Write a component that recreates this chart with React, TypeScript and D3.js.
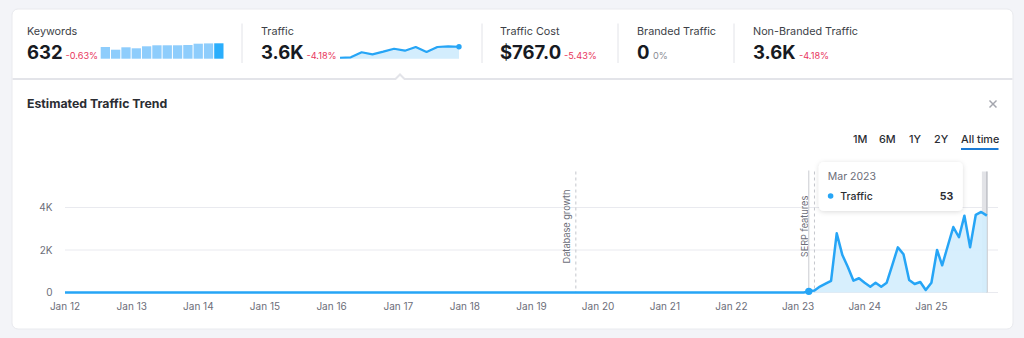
import React from 'react';
import * as d3 from 'd3';

// ---------- data ----------
const kpiLabels = ['Keywords', 'Traffic', 'Traffic Cost', 'Branded Traffic', 'Non-Branded Traffic'];
const kpiValues = ['632', '3.6K', '$767.0', '0', '3.6K'];
const kpiChanges = ['-0.63%', '-4.18%', '-5.43%', '0%', '-4.18%'];
const kpiChangeNeutral = [false, false, false, true, false];

const keywordBars = [480, 369, 468, 427, 509, 550, 550, 550, 562, 616, 628, 632];
const trafficSpark = [2.1, 2.16, 2.82, 2.55, 2.9, 3.29, 3.03, 3.52, 2.86, 3.52, 3.61, 3.55];

const startYear = 2012;
// monthly estimated traffic, Jan 2012 .. Nov 2025
const monthlyTraffic = [
  0, 0, 0, 0, 0, 0, 0, 0, 0, 0, 0, 0, // 2012
  0, 0, 0, 0, 0, 0, 0, 0, 0, 0, 0, 0, // 2013
  0, 0, 0, 0, 0, 0, 0, 0, 0, 0, 0, 0, // 2014
  0, 0, 0, 0, 0, 0, 0, 0, 0, 0, 0, 0, // 2015
  0, 0, 0, 0, 0, 0, 0, 0, 0, 0, 0, 0, // 2016
  0, 0, 0, 0, 0, 0, 0, 0, 0, 0, 0, 0, // 2017
  0, 0, 0, 0, 0, 0, 0, 0, 0, 0, 0, 0, // 2018
  0, 0, 0, 0, 0, 0, 0, 0, 0, 0, 0, 0, // 2019
  0, 0, 0, 0, 0, 0, 0, 0, 0, 0, 0, 0, // 2020
  0, 0, 0, 0, 0, 0, 0, 0, 0, 0, 0, 0, // 2021
  0, 0, 0, 0, 0, 0, 0, 0, 0, 0, 0, 0, // 2022
  0, 0, 53, 90, 280, 420, 550, 2785, 1760, 1200, 555, 670, // 2023
  460, 275, 460, 275, 460, 1300, 2125, 1800, 590, 400, 495, 120, // 2024
  460, 2000, 1280, 2200, 3080, 2600, 3615, 2125, 3650, 3790, 3620, // 2025
];

const eventLabels = ['Database growth', 'SERP features'];
const eventDates = ['2019-09', '2023-04'];
const rangeButtons = ['1M', '6M', '1Y', '2Y', 'All time'];
const yTicks = [0, 2000, 4000];
const hoverIndex = 134; // Mar 2023

// ---------- layout ----------
const W = 1024;
const H = 338;
const FONT = 'Inter, "Noto Sans", sans-serif';
const BLUE = '#26a5f6';
const FILL = '#d3edfd';
const RED = '#e8365d';

const kpiX = [27, 261, 500, 637, 753];
const kpiChangeX = [65.5, 306.5, 564, 653, 799];
const sepX = [242, 482, 618, 734];

export default function App() {
  const dates = monthlyTraffic.map((_, i) => new Date(startYear, i, 1));
  const series = monthlyTraffic.map((v, i) => ({ d: dates[i], v }));

  const x = d3.scaleTime().domain([new Date(2012, 0, 1), new Date(2026, 0, 1)]).range([65, 998]);
  const y = d3.scaleLinear().domain([0, 4000]).range([292.5, 207.5]);
  const plotTop = 171.5;

  const line = d3.line<{ d: Date; v: number }>().x((p) => x(p.d)).y((p) => y(p.v));
  const area = d3
    .area<{ d: Date; v: number }>()
    .x((p) => x(p.d))
    .y0(y(0))
    .y1((p) => y(p.v));

  const xTicks = d3.range(2012, 2026).map((yr) => new Date(yr, 0, 1));
  const fmtTick = d3.timeFormat('%b %y');
  const fmtMonth = d3.timeFormat('%b %Y');
  const fmtY = (v: number) => (v === 0 ? '0' : `${v / 1000}K`);

  // keyword bars
  const kb = d3.scaleBand<number>().domain(d3.range(keywordBars.length)).range([100.7, 223.5]).paddingInner(0.1);
  const ky = d3.scaleLinear().domain([0, 632]).range([58.7, 43.3]);

  // traffic sparkline
  const sx = d3.scaleLinear().domain([0, trafficSpark.length - 1]).range([340, 459]);
  const sy = d3.scaleLinear().domain([2.0, 3.65]).range([58.5, 46]);
  const sLine = d3.line<number>().x((_, i) => sx(i)).y((v) => sy(v));
  const sArea = d3.area<number>().x((_, i) => sx(i)).y0(58.7).y1((v) => sy(v));

  const hoverP = series[hoverIndex];
  const lastP = series[series.length - 1];
  const parseM = d3.timeParse('%Y-%m');

  const btnX = [853, 879, 909, 934, 961];

  return (
    <svg width={W} height={H} style={{ position: 'absolute', left: 0, top: 0 }} fontFamily={FONT}>
      <defs>
        <filter id="tipShadow" x="-20%" y="-30%" width="140%" height="170%">
          <feDropShadow dx="0" dy="1" stdDeviation="2.5" floodColor="#000" floodOpacity="0.14" />
        </filter>
      </defs>
      <rect x={0} y={0} width={W} height={H} fill="#f3f4f8" />
      <rect x={12} y={9} width={1001} height={320} rx={6} fill="#fff" stroke="#e9eaee" />

      {/* KPI row */}
      {kpiLabels.map((l, i) => (
        <g key={l}>
          <text x={kpiX[i]} y={35} fontSize={10.8} fill="#3d3f47">{l}</text>
          <text x={kpiX[i]} y={58.7} fontSize={18.5} fontWeight={700} fill="#171a22">{kpiValues[i]}</text>
          <text x={kpiChangeX[i]} y={58.5} fontSize={9.2} fill={kpiChangeNeutral[i] ? '#8a8c94' : RED}>{kpiChanges[i]}</text>
        </g>
      ))}
      {sepX.map((sxp) => (
        <line key={sxp} x1={sxp} x2={sxp} y1={23.5} y2={63} stroke="#e2e3e8" />
      ))}
      {keywordBars.map((v, i) => (
        <rect key={i} x={kb(i)} y={ky(v)} width={kb.bandwidth()} height={58.7 - ky(v)}
          fill={i === keywordBars.length - 1 ? '#2aaefc' : '#8ecdfc'} />
      ))}
      <path d={sArea(trafficSpark) || ''} fill={FILL} />
      <path d={sLine(trafficSpark) || ''} fill="none" stroke={BLUE} strokeWidth={2.2} strokeLinejoin="round" />
      <circle cx={sx(trafficSpark.length - 1)} cy={sy(trafficSpark[trafficSpark.length - 1])} r={2.7} fill={BLUE} />

      {/* divider with caret */}
      <path d="M12.5,79 H395.5 L400,74.5 L404.5,79 H1012.5" fill="none" stroke="#e3e4e9" strokeWidth={2} />

      {/* chart header */}
      <text x={27} y={108.3} fontSize={12.3} fontWeight={700} fill="#2b2d33">Estimated Traffic Trend</text>
      <g stroke="#a4a6ae" strokeWidth={1.5}>
        <line x1={989.5} y1={100.5} x2={996.5} y2={107.5} />
        <line x1={996.5} y1={100.5} x2={989.5} y2={107.5} />
      </g>
      {rangeButtons.map((b, i) => (
        <text key={b} x={btnX[i]} y={142.5} fontSize={10.8} fontWeight={500} fill="#2b2d33">{b}</text>
      ))}
      <rect x={961} y={148} width={37.5} height={2} fill="#1b7ad4" />

      {/* grid */}
      {yTicks.map((t) => (
        <g key={t}>
          <line x1={65} x2={998} y1={y(t)} y2={y(t)} stroke="#e9eaef" />
          <text x={52.5} y={y(t)} dy="0.35em" textAnchor="end" fontSize={10} fill="#6c6e79">{fmtY(t)}</text>
        </g>
      ))}
      {xTicks.map((t) => (
        <text key={+t} x={x(t)} y={309.5} textAnchor="middle" fontSize={10} fill="#6c6e79">{fmtTick(t)}</text>
      ))}

      {/* event markers */}
      {eventLabels.map((l, i) => {
        const ex = x(parseM(eventDates[i]) as Date);
        return (
          <g key={l}>
            <line x1={ex} x2={ex} y1={plotTop} y2={y(0)} stroke="#c4c6cc" strokeDasharray="3,3" />
            <text transform={`translate(${ex - 6},226.5) rotate(-90)`} textAnchor="middle" fontSize={9.2} fill="#6c6e79">{l}</text>
          </g>
        );
      })}

      {/* last month highlight */}
      <rect x={x(lastP.d) - 5} y={plotTop} width={6} height={y(0) - plotTop} fill="#e2e3e7" />
      <line x1={x(lastP.d)} x2={x(lastP.d)} y1={plotTop} y2={y(0)} stroke="#b4b6bd" />

      {/* series */}
      <path d={area(series) || ''} fill={FILL} opacity={0.9} />
      <path d={line(series) || ''} fill="none" stroke={BLUE} strokeWidth={2.5} strokeLinejoin="round" />

      {/* hover */}
      <line x1={x(hoverP.d)} x2={x(hoverP.d)} y1={plotTop - 1} y2={y(hoverP.v)} stroke="#c9cbd1" />
      <circle cx={x(hoverP.d)} cy={y(hoverP.v)} r={3.7} fill={BLUE} />
      <g transform={`translate(${x(hoverP.d) + 10},162)`}>
        <rect x={0} y={0} width={144} height={49} rx={5} fill="#fff" filter="url(#tipShadow)" />
        <text x={9} y={18} fontSize={10.5} fill="#6c6e79">{fmtMonth(hoverP.d)}</text>
        <circle cx={11.8} cy={34} r={2.8} fill={BLUE} />
        <text x={21.5} y={37.5} fontSize={10.5} fontWeight={500} fill="#2b2d33">Traffic</text>
        <text x={134.5} y={37.5} textAnchor="end" fontSize={10.5} fontWeight={700} fill="#2b2d33">{hoverP.v}</text>
      </g>
    </svg>
  );
}
